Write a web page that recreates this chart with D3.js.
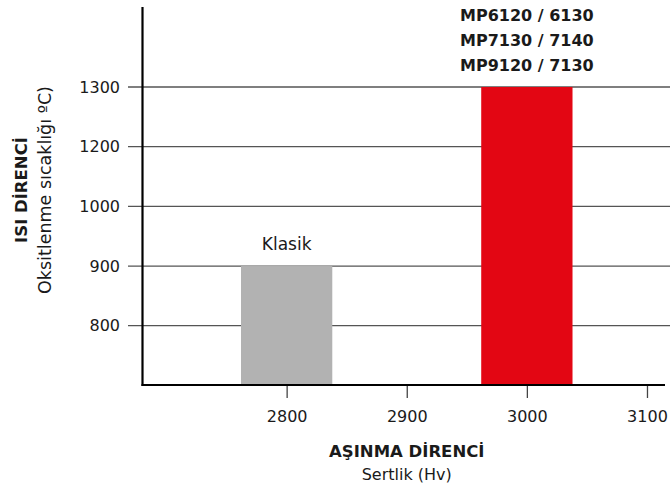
<!DOCTYPE html>
<html>
<head>
<meta charset="utf-8">
<script src="https://cdn.jsdelivr.net/npm/d3@7"></script>
<style>
  body { margin: 0; background: #fff; }
  svg text { font-family: "DejaVu Sans", sans-serif; fill: #1a1a1a; }
</style>
</head>
<body>
<div id="chart"></div>
<script>
// y axis is categorical - evenly spaced steps, not linear
let tempLevels = ["800", "900", "1000", "1200", "1300"];
let xTicks = [2800, 2900, 3000, 3100];
let barHardness = [2800, 3000];
let barTemp = ["900", "1300"];
let barColors = ["#b2b2b2", "#e30613"];
let barLabels = [["Klasik"], ["MP6120 / 6130", "MP7130 / 7140", "MP9120 / 7130"]];

let width = 670, height = 492;
let axisLeft = 142.5, axisBottom = 385;

var svg = d3.select("#chart").append("svg")
  .attr("width", width)
  .attr("height", height);

var x = d3.scaleLinear()
  .domain([2680, 3115])
  .range([axisLeft, 665]);

var y = d3.scalePoint()
  .domain(tempLevels)
  .range([325.7, 87]);

let barW = x(2838) - x(2762);

//gridlines + y labels
var yg = svg.append("g");
yg.selectAll(".grid")
  .data(tempLevels)
  .enter().append("line")
  .attr("x1", 128)
  .attr("x2", width)
  .attr("y1", d => y(d))
  .attr("y2", d => y(d))
  .attr("stroke", "#555")
  .attr("stroke-width", 1.3);

yg.selectAll(".ylab")
  .data(tempLevels)
  .enter().append("text")
  .attr("x", 120)
  .attr("y", d => y(d))
  .attr("dy", "0.36em")
  .attr("text-anchor", "end")
  .style("font-size", "16px")
  .text(d => d);

//bars
svg.selectAll(".bar")
  .data(barHardness)
  .enter().append("rect")
  .attr("x", d => x(d) - barW / 2)
  .attr("y", (d, i) => y(barTemp[i]))
  .attr("width", barW)
  .attr("height", (d, i) => axisBottom - y(barTemp[i]))
  .attr("fill", (d, i) => barColors[i]);

//bar labels
barLabels.forEach((lines, i) => {
  let bold = lines.length > 1;
  let top = y(barTemp[i]);
  lines.forEach((t, j) => {
    svg.append("text")
      .attr("x", x(barHardness[i]))
      .attr("y", top - 16 - (lines.length - 1 - j) * 25)
      .attr("text-anchor", "middle")
      .style("font-size", bold ? "16px" : "17px")
      .style("font-weight", bold ? "bold" : "normal")
      .text(t);
  });
});

//x axis
var xAxis = d3.axisBottom(x)
  .tickValues(xTicks)
  .tickFormat(d3.format("d"))
  .tickSize(13)
  .tickPadding(13)
  .tickSizeOuter(0);

var xg = svg.append("g")
  .attr("transform", "translate(0," + axisBottom + ")")
  .call(xAxis);
xg.select(".domain").remove();
xg.selectAll(".tick line").attr("stroke", "#444").attr("stroke-width", 1.3);
xg.selectAll(".tick text")
  .style("font-family", "DejaVu Sans")
  .style("font-size", "16px")
  .attr("fill", "#1a1a1a");

//axis lines
svg.append("line")
  .attr("x1", axisLeft).attr("x2", axisLeft)
  .attr("y1", 7).attr("y2", axisBottom + 1)
  .attr("stroke", "#000").attr("stroke-width", 2.2);
svg.append("line")
  .attr("x1", axisLeft - 1).attr("x2", 665)
  .attr("y1", axisBottom).attr("y2", axisBottom)
  .attr("stroke", "#000").attr("stroke-width", 2.2);

//axis titles
let xMid = x(2900);
svg.append("text")
  .attr("x", xMid).attr("y", 457)
  .attr("text-anchor", "middle")
  .style("font-size", "16.5px")
  .style("font-weight", "bold")
  .text("AŞINMA DİRENCİ");
svg.append("text")
  .attr("x", xMid).attr("y", 480)
  .attr("text-anchor", "middle")
  .style("font-size", "16px")
  .text("Sertlik (Hv)");

let yMid = 190;
svg.append("text")
  .attr("transform", "translate(27," + yMid + ") rotate(-90)")
  .attr("text-anchor", "middle")
  .style("font-size", "16.5px")
  .style("font-weight", "bold")
  .text("ISI DİRENCİ");
svg.append("text")
  .attr("transform", "translate(51," + yMid + ") rotate(-90)")
  .attr("text-anchor", "middle")
  .style("font-size", "17.5px")
  .text("Oksitlenme sıcaklığı ºC)");
</script>
</body>
</html>
